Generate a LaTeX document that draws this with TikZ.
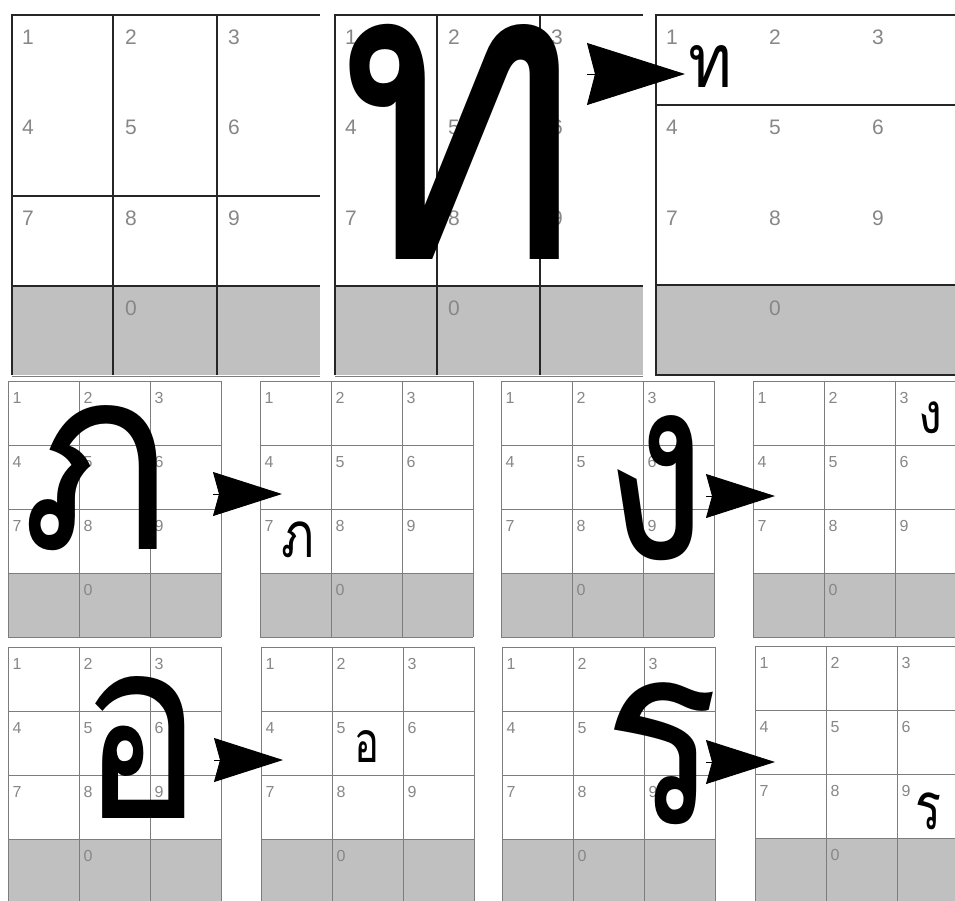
\documentclass[tikz,border=0pt]{standalone}
\usepackage{fontspec}
\usepackage{graphicx}
\setsansfont{Liberation Sans}
\newfontfamily\thaifont[Script=Thai]{Loma}
\usetikzlibrary{arrows.meta,positioning}
\definecolor{keygray}{RGB}{192,192,192}
\definecolor{digitgray}{RGB}{135,135,135}
\definecolor{linegray}{RGB}{125,125,125}

\begin{document}
\begin{tikzpicture}[
  x=1pt, y=-1pt,
  font=\sffamily,
  digit/.style={text=digitgray, inner sep=0pt, font=\sffamily\fontsize{21}{21}\selectfont},
  smalldigit/.style={digit, font=\sffamily\fontsize{16}{16}\selectfont},
  heavy/.style={line width=1.5pt, black!85},
  light/.style={line width=1pt, linegray},
  bigletter/.style={inner sep=0pt, font=\thaifont},
  smallletter/.style={inner sep=0pt, font=\thaifont},
  bigpointer/.style={line width=1pt, -{Stealth[length=98pt, width=62pt, inset=8pt]}},
  pointer/.style={line width=1pt, -{Stealth[length=69pt, width=44pt, inset=6pt]}},
  pics/pad/.style={code={
    \fill[keygray] (0,192) rectangle (213,256);
    \foreach \r in {0,64,128,192,256} \draw[light] (0,\r) -- (213,\r);
    \foreach \c in {0,71,142,213} \draw[light] (\c,0) -- (\c,256);
    \foreach \d/\c/\r in {1/0/0,2/1/0,3/2/0,4/0/1,5/1/1,6/2/1,7/0/2,8/1/2,9/2/2,0/1/3}
      \node[smalldigit] (-k\d) at (9+71*\c,17+64*\r) {\d};
  }},
  pics/toppad/.style={code={
    \foreach \d/\c/\r in {1/0/0,2/1/0,3/2/0,4/0/1,5/1/1,6/2/1,7/0/2,8/1/2,9/2/2,0/1/3}
      \node[digit] (-k\d) at (16+103*\c,22+90.5*\r) {\d};
  }}
]
\useasboundingbox (0,0) rectangle (955,900);
\fill[white] (0,0) rectangle (955,900);
\clip (0,0) rectangle (955,900);

\fill[keygray] (12,286) rectangle (320,375);
\draw[heavy] (320,15) -- (12,15) -- (12,375);
\draw[heavy] (113,15) -- (113,375);
\draw[heavy] (217,15) -- (217,375);
\draw[heavy] (12,196) -- (320,196);
\draw[heavy] (12,286) -- (320,286);
\draw[light] (12,376) -- (320,376);
\pic (padA) at (12,15) {toppad};

\fill[keygray] (335,286) rectangle (643,375);
\draw[heavy] (643,15) -- (335,15) -- (335,375);
\draw[heavy] (437,15) -- (437,375);
\draw[heavy] (540,15) -- (540,375);
\draw[heavy] (335,286) -- (643,286);
\draw[light] (335,376) -- (643,376);
\pic (padB) at (335,15) {toppad};

\fill[keygray] (656,285) rectangle (955,375);
\draw[heavy] (955,15) -- (656,15) -- (656,375) -- (955,375);
\draw[heavy] (656,105) -- (955,105);
\draw[heavy] (656,285) -- (955,285);
\pic (padC) at (656,15) {toppad};

\pic (padD) at (8,381) {pad};
\pic (padE) at (260,381) {pad};
\pic (padF) at (501,381) {pad};
\pic (padG) at (753,381) {pad};
\pic (padH) at (8,647) {pad};
\pic (padI) at (261,647) {pad};
\pic (padJ) at (502,647) {pad};
\pic (padK) at (755,646) {pad};

\node[bigletter] (bigTho) at (461,142) {\resizebox*{245pt}{235pt}{ท}};
\node[smallletter] (smallTho) at (710,66) {\resizebox*{44pt}{42pt}{ท}};
\node[bigletter] (bigPho) at (97,478) {\resizebox*{150pt}{145pt}{ภ}};
\node[smallletter] (smallPho) at (298,540) {\resizebox*{33pt}{36pt}{ภ}};
\node[bigletter] (bigNgo) at (655,488) {\resizebox*{106pt}{145pt}{ง}};
\node[smallletter] (smallNgo) at (930,418) {\resizebox*{24pt}{32pt}{ง}};
\node[bigletter] (bigO) at (142,747) {\resizebox*{122pt}{142pt}{อ}};
\node[smallletter] (smallO) at (367,746) {\resizebox*{25pt}{32pt}{อ}};
\node[bigletter] (bigRo) at (662,754) {\resizebox*{116pt}{142pt}{ร}};
\node[smallletter] (smallRo) at (928,811) {\resizebox*{26pt}{37pt}{ร}};

\coordinate (thoFrom) at (587,74);
\coordinate (thoTo) at (685,74);
\coordinate (phoFrom) at (213,494);
\coordinate (phoTo) at (282,494);
\coordinate (ngoFrom) at (706,496);
\coordinate (ngoTo) at (775,496);
\coordinate (oFrom) at (214,760);
\coordinate (oTo) at (283,760);
\coordinate (roFrom) at (706,762);
\coordinate (roTo) at (775,762);

\draw[bigpointer] (thoFrom) -- (thoTo);
\draw[pointer] (phoFrom) -- (phoTo);
\draw[pointer] (ngoFrom) -- (ngoTo);
\draw[pointer] (oFrom) -- (oTo);
\draw[pointer] (roFrom) -- (roTo);
\end{tikzpicture}
\end{document}
